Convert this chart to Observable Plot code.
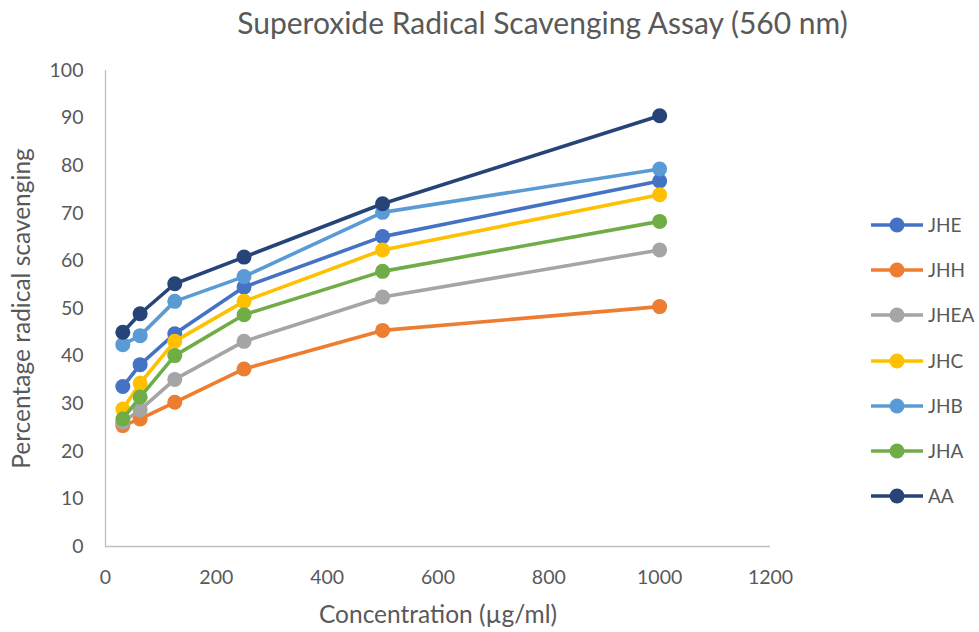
<!DOCTYPE html>
<html>
<head>
<meta charset="utf-8">
<script src="https://cdn.jsdelivr.net/npm/d3@7"></script>
<script src="https://cdn.jsdelivr.net/npm/@observablehq/plot@0.6"></script>
<style>
  body { margin: 0; background: #fff; }
  #wrap { position: relative; width: 979px; height: 632px; font-family: Lato, "Open Sans", sans-serif; color: #595959; }
  #title { box-sizing: border-box; width: 979px; padding-left: 106px; height: 48px; line-height: 44px; text-align: center; font-size: 30px; color: #595959; white-space: nowrap; }
  #legend { position: absolute; left: 869px; top: 212px; }
  .li { height: 45.2px; display: flex; align-items: flex-start; font-size: 19px; color: #595959; }
  .li svg { margin-right: 3px; }
  .li span { line-height: 26px; }
  svg g[aria-label="x-axis tick label"] text, svg g[aria-label="y-axis tick label"] text { font-size: 19.5px; }
  svg g[aria-label="x-axis label"] text { font-size: 24.5px; }
  svg g[aria-label="y-axis label"] text { font-size: 24.5px; }
</style>
</head>
<body>
<div id="wrap">
  <div id="title">Superoxide Radical Scavenging Assay (560 nm)</div>
  <div id="chart"></div>
  <div id="legend"></div>
</div>
<script>
const conc = [31.25, 62.5, 125, 250, 500, 1000];
const seriesNames = ["JHE", "JHH", "JHEA", "JHC", "JHB", "JHA", "AA"];
const seriesColors = ["#4472C4", "#ED7D31", "#A5A5A5", "#FFC000", "#5B9BD5", "#70AD47", "#264478"];
const JHE  = [33.6, 38.2, 44.7, 54.5, 65.1, 76.8];
const JHH  = [25.4, 26.8, 30.3, 37.3, 45.4, 50.4];
const JHEA = [26.1, 28.7, 35.1, 43.1, 52.4, 62.3];
const JHC  = [28.9, 34.3, 43.1, 51.5, 62.3, 73.9];
const JHB  = [42.4, 44.3, 51.5, 56.7, 70.2, 79.3];
const JHA  = [26.8, 31.4, 40.1, 48.7, 57.8, 68.3];
const AA   = [45.0, 48.9, 55.2, 60.8, 72.0, 90.5];
const xTicks = [0, 200, 400, 600, 800, 1000, 1200];
const yTicks = [0, 10, 20, 30, 40, 50, 60, 70, 80, 90, 100];

const values = [JHE, JHH, JHEA, JHC, JHB, JHA, AA];
const marks = [
  Plot.ruleX([0], {stroke: "#bfbfbf", strokeWidth: 1.3}),
  Plot.ruleY([0], {stroke: "#bfbfbf", strokeWidth: 1.3})
];
seriesNames.forEach((name, i) => {
  const data = conc.map((c, j) => ({c, v: values[i][j]}));
  marks.push(Plot.line(data, {x: "c", y: "v", stroke: seriesColors[i], strokeWidth: 3.6}));
  marks.push(Plot.dot(data, {x: "c", y: "v", fill: seriesColors[i], r: 7.5}));
});

const chart = Plot.plot({
  width: 979,
  height: 584,
  marginLeft: 105,
  marginRight: 209,
  marginTop: 22,
  marginBottom: 86,
  style: {fontFamily: "Lato, 'Open Sans', sans-serif", fontSize: "18px", color: "#595959", background: "#fff"},
  x: {domain: [0, 1200], ticks: xTicks, tickFormat: d => String(d), tickSize: 0, tickPadding: 24, label: "Concentration (µg/ml)", labelArrow: "none", labelAnchor: "center", labelOffset: 76},
  y: {domain: [0, 100], ticks: yTicks, tickFormat: d => String(d), tickSize: 0, tickPadding: 22, label: "Percentage radical scavenging", labelArrow: "none", labelAnchor: "center", labelOffset: 93},
  marks
});
document.getElementById("chart").appendChild(chart);

const legend = document.getElementById("legend");
seriesNames.forEach((name, i) => {
  const row = document.createElement("div");
  row.className = "li";
  row.innerHTML = `<svg width="56" height="26"><line x1="2" x2="54" y1="13" y2="13" stroke="${seriesColors[i]}" stroke-width="3.6"/><circle cx="28" cy="13" r="7.5" fill="${seriesColors[i]}"/></svg><span>${name}</span>`;
  legend.appendChild(row);
});
</script>
</body>
</html>
